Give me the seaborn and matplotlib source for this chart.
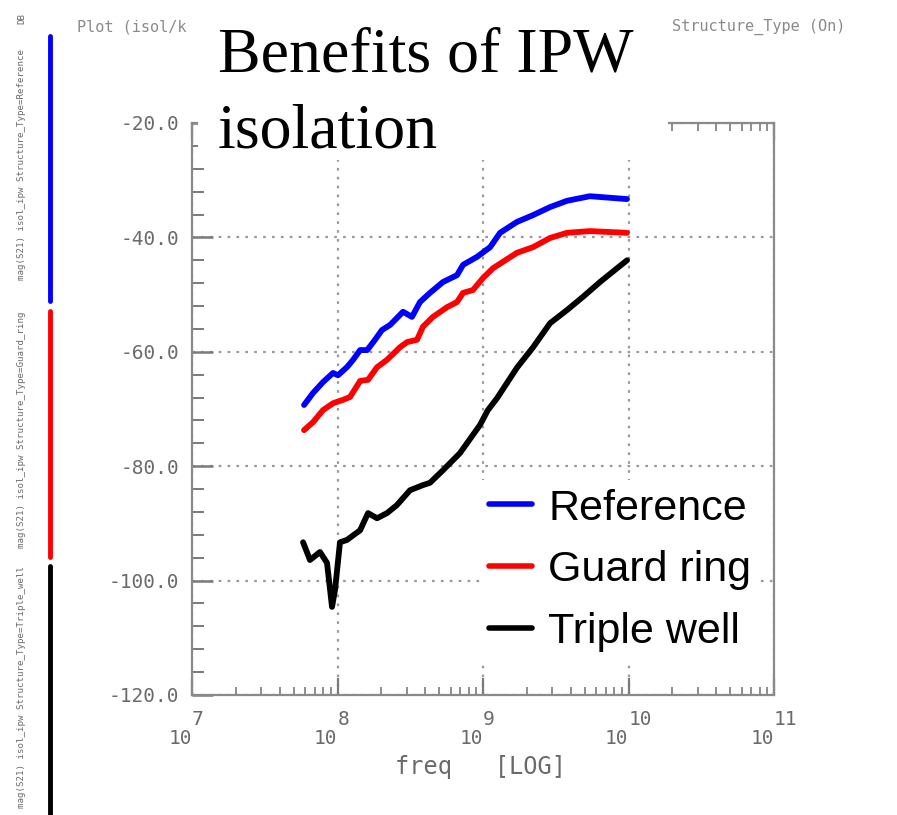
import numpy as np
import pandas as pd
import matplotlib
matplotlib.use("Agg")
import matplotlib.pyplot as plt
import matplotlib.transforms as mtransforms
from matplotlib.patches import Rectangle
from matplotlib.lines import Line2D
from matplotlib.ticker import FixedLocator, LogLocator, NullFormatter
import seaborn as sns

# ---------------- data ----------------
series_names = ["Reference", "Guard ring", "Triple well"]
series_colors = ["#0000ff", "#ff0000", "#000000"]

ref_freq = [5.89e7, 6.79e7, 7.95e7, 9.31e7, 1.007e8, 1.16e8, 1.28e8, 1.43e8, 1.60e8, 1.81e8,
            2.02e8, 2.30e8, 2.56e8, 2.82e8, 3.25e8, 3.69e8, 4.32e8, 5.31e8, 6.63e8, 7.29e8,
            9.10e8, 1.12e9, 1.31e9, 1.71e9, 2.21e9, 2.89e9, 3.78e9, 5.43e9, 9.77e9]
ref_db = [-69.3, -67.2, -65.3, -63.7, -64.1, -62.7, -61.4, -59.7, -59.7, -57.9,
          -56.2, -55.3, -54.1, -53.0, -53.9, -51.3, -49.7, -47.8, -46.6, -44.8,
          -43.4, -41.7, -39.2, -37.3, -36.1, -34.7, -33.6, -32.8, -33.3]

guard_freq = [5.89e7, 6.79e7, 7.95e7, 9.31e7, 1.09e8, 1.22e8, 1.43e8, 1.62e8, 1.87e8, 2.19e8,
              2.69e8, 3.01e8, 3.52e8, 3.87e8, 4.53e8, 5.66e8, 6.63e8, 7.29e8, 8.53e8, 1.00e9,
              1.17e9, 1.71e9, 2.21e9, 2.89e9, 3.78e9, 5.43e9, 9.77e9]
guard_db = [-73.7, -72.3, -70.2, -69.0, -68.4, -67.9, -65.1, -64.9, -62.7, -61.4,
            -59.2, -58.3, -57.9, -55.6, -53.9, -52.2, -51.3, -49.7, -49.2, -47.1,
            -45.4, -42.7, -41.7, -40.1, -39.2, -38.9, -39.2]

triple_freq = [5.80e7, 6.47e7, 7.58e7, 8.47e7, 9.17e7, 9.62e7, 1.04e8, 1.16e8, 1.43e8, 1.62e8,
               1.87e8, 2.19e8, 2.56e8, 3.15e8, 3.87e8, 4.32e8, 5.31e8, 6.95e8, 9.53e8, 1.08e9,
               1.25e9, 1.71e9, 2.21e9, 2.89e9, 3.78e9, 4.86e9, 6.37e9, 8.34e9, 9.77e9]
triple_db = [-93.3, -96.4, -95.0, -96.9, -104.6, -101.6, -93.3, -92.9, -91.2, -88.2,
             -89.1, -88.2, -86.8, -84.2, -83.3, -82.9, -80.7, -77.7, -72.8, -70.2,
             -68.1, -62.8, -59.2, -55.0, -52.7, -50.4, -47.8, -45.4, -44.0]

y_major = [-120, -100, -80, -60, -40, -20]
y_tick_labels = ["-120.0", "-100.0", "-80.0", "-60.0", "-40.0", "-20.0"]
x_exponents = [7, 8, 9, 10, 11]
x_label = "freq   [LOG]"
title_lines = ["Benefits of IPW", "isolation"]
strip_texts = ["mag(S21) isol_ipw Structure_Type=Reference",
               "mag(S21) isol_ipw Structure_Type=Guard_ring",
               "mag(S21) isol_ipw Structure_Type=Triple_well"]

# --------------- frame ----------------
df = pd.concat([
    pd.DataFrame({"freq": ref_freq, "dB": ref_db, "series": series_names[0]}),
    pd.DataFrame({"freq": guard_freq, "dB": guard_db, "series": series_names[1]}),
    pd.DataFrame({"freq": triple_freq, "dB": triple_db, "series": series_names[2]}),
], ignore_index=True)

sns.set_theme(style="white")
plt.rcParams["font.family"] = ["DejaVu Sans"]

W, H = 897, 815
fig = plt.figure(figsize=(W / 100, H / 100), dpi=100)
fig.patch.set_facecolor("white")
ax = fig.add_axes([192 / W, 1 - 695 / H, 582 / W, 572 / H])

ax.set_xscale("log")
sns.lineplot(data=df, x="freq", y="dB", hue="series", hue_order=series_names,
             palette=series_colors, sort=False, estimator=None, linewidth=4.2,
             ax=ax, legend=False)

ax.set_xlim(1e7, 1e11)
ax.set_ylim(-120, -20)

gray = "#6a6a6a"
for s in ax.spines.values():
    s.set_color("#8a8a8a")
    s.set_linewidth(1.6)
    s.set_visible(True)

ax.yaxis.set_major_locator(FixedLocator(y_major))
ax.yaxis.set_minor_locator(FixedLocator(np.arange(-120, -19, 4)))
ax.set_yticklabels(y_tick_labels, family="DejaVu Sans Mono", fontsize=14, color=gray)
ax.xaxis.set_major_locator(LogLocator(base=10, numticks=10))
ax.xaxis.set_minor_locator(LogLocator(base=10, subs=np.arange(2, 10), numticks=50))
ax.xaxis.set_major_formatter(NullFormatter())
ax.xaxis.set_minor_formatter(NullFormatter())

ax.tick_params(axis="y", which="major", direction="in", length=15, width=1.8,
               color="#7a7a7a", left=True, right=False, pad=9)
ax.tick_params(axis="y", which="minor", direction="in", length=8.5, width=1.4,
               color="#7a7a7a", left=True, right=False)
ax.tick_params(axis="x", which="major", direction="in", length=12, width=1.6,
               color="#7a7a7a", bottom=True, top=True)
ax.tick_params(axis="x", which="minor", direction="in", length=6, width=1.2,
               color="#7a7a7a", bottom=True, top=True)

ax.grid(True, which="major", color="#9a9a9a", linestyle=(0, (1.2, 2.8)), linewidth=1.6)
ax.set_xlabel("")
ax.set_ylabel("")

# x tick labels as 10^n
tr = mtransforms.blended_transform_factory(ax.transData, ax.transAxes)
for e in x_exponents:
    ax.text(10.0 ** e, -0.076, "10", transform=tr, ha="right", va="center",
            family="DejaVu Sans Mono", fontsize=14, color=gray)
    ax.text(10.0 ** e, -0.043, str(e), transform=tr, ha="left", va="center",
            family="DejaVu Sans Mono", fontsize=14, color=gray)

fig.text(480 / W, 1 - 767 / H, x_label, ha="center", va="center",
         family="DejaVu Sans Mono", fontsize=17, color=gray)

# legend
handles = [Line2D([0], [0], color=c, lw=4) for c in series_colors]
leg = ax.legend(handles, series_names, loc="upper left", bbox_to_anchor=(0.495, 0.376),
                frameon=True, fancybox=False, framealpha=1, edgecolor="none",
                facecolor="white", prop={"family": "Liberation Sans", "size": 31},
                handlelength=1.0, handletextpad=0.38, labelspacing=0.5,
                borderpad=0.2, borderaxespad=0, labelcolor="black")

# header texts
fig.text(77 / W, 1 - 27 / H, "Plot (isol/k", ha="left", va="center",
         family="DejaVu Sans Mono", fontsize=11, color="#8a8a8a")
fig.text(672 / W, 1 - 27 / H, "Structure_Type (On)", ha="left", va="center",
         family="DejaVu Sans Mono", fontsize=11, color="#8a8a8a")

# white title box
fig.add_artist(Rectangle((198 / W, 1 - 160 / H), 470 / W, 160 / H,
                         transform=fig.transFigure, facecolor="white",
                         edgecolor="none", zorder=10))
fig.text(218 / W, 1 - 72 / H, title_lines[0], ha="left", va="baseline",
         family="Liberation Serif", fontsize=46, color="black", zorder=11)
fig.text(218 / W, 1 - 147 / H, title_lines[1], ha="left", va="baseline",
         family="Liberation Serif", fontsize=46, color="black", zorder=11)

# left strip legend
segs = [(36, 301), (311, 557), (566, 815)]
for (y0, y1), c, t in zip(segs, series_colors, strip_texts):
    fig.add_artist(Line2D([50 / W, 50 / W], [1 - y0 / H, 1 - y1 / H],
                          transform=fig.transFigure, color=c, lw=3.5))
    fig.text(22 / W, 1 - (y0 + y1 - 8) / 2 / H, t, rotation=90, ha="center", va="center",
             family="DejaVu Sans Mono", fontsize=6.6, color="#6a6a6a")
fig.text(22 / W, 1 - 18 / H, "DB", rotation=90, ha="center", va="center",
         family="DejaVu Sans Mono", fontsize=6.6, color="#6a6a6a")

fig.savefig("out.png", dpi=100)
